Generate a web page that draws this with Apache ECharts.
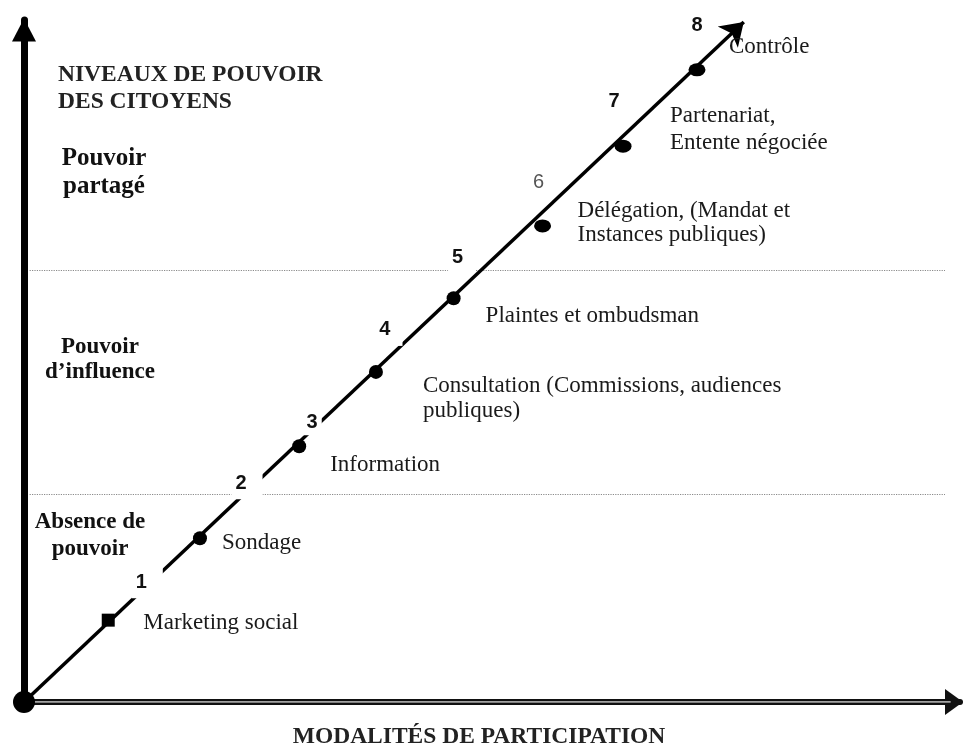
<!DOCTYPE html>
<html>
<head>
<meta charset="utf-8">
<script src="https://cdn.jsdelivr.net/npm/echarts@6/dist/echarts.min.js"></script>
<style>
  html, body { margin: 0; padding: 0; background: #fff; }
  #chart { width: 963px; height: 748px; }
</style>
</head>
<body>
<div id="chart"></div>
<script>
// niveaux de participation (1 à 8)
const levelNumbers = ['1', '2', '3', '4', '5', '6', '7', '8'];
const levelNames = [
  'Marketing social',
  'Sondage',
  'Information',
  'Consultation (Commissions, audiences\npubliques)',
  'Plaintes et ombudsman',
  'Délégation, (Mandat et\nInstances publiques)',
  'Partenariat,\nEntente négociée',
  'Contrôle'
];
// modalité de participation (x) et pouvoir (y), échelle 0-100
const participation = [9.0, 18.8, 29.4, 37.6, 45.9, 55.4, 64.0, 71.9];
const pouvoir = [12.0, 24.0, 37.5, 48.4, 59.2, 69.8, 81.5, 92.7];
// seuils entre les zones de pouvoir
const zoneLimits = [30.4, 63.3];
const zoneNames = ['Absence de\npouvoir', 'Pouvoir\nd’influence', 'Pouvoir\npartagé'];
// bout de la flèche diagonale
const arrowEnd = [76.9, 99.7];

// mise en page des étiquettes (px)
const numCenters = [[33, -42], [41, -59], [13, -25], [9, -46], [4, -43], [-4, -44], [-9, -46], [0, -45]];
const numPads = [[2, 16, 10, 4], [2, 16, 10, 4], [2, 4, 4, 4], [2, 12, 10, 4], [2, 12, 6, 4], [2, 4, 4, 4], [2, 4, 4, 4], [2, 4, 4, 4]];
const nameOffsets = [[35, 3], [22, 5], [31, 19], [47, 27], [32, 18], [35, -3], [47, -17], [32, -23]];
const nameLineHeight = [25, 25, 25, 25, 25, 24, 27, 25];
const zoneTitlePos = [[90, 509], [100, 335], [104, 145]]; // centre x, haut
const zoneFont = [[23, 27], [23, 25], [25, 28]]; // taille, interligne

const serif = 'Liberation Serif';
const points = participation.map((x, i) => [x, pouvoir[i]]);

const chart = echarts.init(document.getElementById('chart'));

const titles = [{
  text: 'NIVEAUX DE POUVOIR\nDES CITOYENS',
  left: 58, top: 61, padding: 0,
  textStyle: { fontFamily: serif, fontSize: 23.5, fontWeight: 'bold', lineHeight: 27, color: '#222' }
}];
zoneNames.forEach((name, i) => {
  titles.push({
    text: name,
    left: zoneTitlePos[i][0], top: zoneTitlePos[i][1], padding: 0,
    textAlign: 'center',
    textStyle: { fontFamily: serif, fontSize: zoneFont[i][0], fontWeight: 'bold', lineHeight: zoneFont[i][1], color: '#111' }
  });
});

const option = {
  backgroundColor: '#fff',
  animation: false,
  title: titles,
  grid: { left: 24, right: 3, top: 20, bottom: 46, outerBoundsMode: 'none' },
  xAxis: {
    type: 'value', min: 0, max: 100,
    axisLine: {
      show: true, symbol: ['none', 'triangle'], symbolSize: [26, 18], symbolOffset: [0, -6],
      lineStyle: { color: '#111', width: 6 }
    },
    axisTick: { show: false }, axisLabel: { show: false }, splitLine: { show: false },
    name: 'MODALITÉS DE PARTICIPATION',
    nameLocation: 'middle', nameGap: 23,
    nameTextStyle: { fontFamily: serif, fontSize: 23.5, fontWeight: 'bold', color: '#222', padding: [0, 26, 0, 0] }
  },
  yAxis: {
    type: 'value', min: 0, max: 100,
    axisLine: {
      show: true, symbol: ['none', 'triangle'], symbolSize: [24, 23], symbolOffset: [0, -10],
      lineStyle: { color: '#000', width: 7 }
    },
    axisTick: { show: false }, axisLabel: { show: false }, splitLine: { show: false }
  },
  series: [
    {
      // lignes pointillées entre les zones
      type: 'lines', coordinateSystem: 'cartesian2d', silent: true, z: 1,
      symbol: 'none',
      lineStyle: { color: '#8a8a8a', width: 1.2, type: 'dotted', opacity: 1 },
      data: zoneLimits.map(v => ({ coords: [[0.6, v], [98.4, v]] }))
    },
    {
      // double trait de l'axe horizontal
      type: 'lines', coordinateSystem: 'cartesian2d', silent: true, z: 2,
      symbol: 'none',
      lineStyle: { color: '#d4d4d4', width: 1.5, opacity: 1 },
      data: [{ coords: [[1, 0], [99, 0]] }]
    },
    {
      // flèche diagonale
      type: 'lines', coordinateSystem: 'cartesian2d', silent: true, z: 2,
      symbol: ['none', 'arrow'], symbolSize: 22,
      lineStyle: { color: '#000', width: 3.5, opacity: 1 },
      data: [{ coords: [[0, 0], arrowEnd] }]
    },
    {
      // numéros des niveaux (fond blanc qui coupe les traits)
      type: 'scatter', symbolSize: 0, silent: true, z: 3,
      itemStyle: { opacity: 1 },
      data: points.map((p, i) => {
        const pad = numPads[i];
        return {
          value: p,
          label: {
            padding: pad,
            offset: [numCenters[i][0] + (pad[1] - pad[3]) / 2, numCenters[i][1] + (pad[2] - pad[0]) / 2],
            fontWeight: i === 5 ? 'normal' : 'bold',
            color: i === 5 ? '#555' : '#111'
          }
        };
      }),
      label: {
        show: true, position: 'inside',
        formatter: p => levelNumbers[p.dataIndex],
        fontFamily: 'Liberation Sans', fontSize: 20,
        backgroundColor: '#fff'
      }
    },
    {
      // libellés des niveaux
      type: 'scatter', symbolSize: 0, silent: true, z: 3,
      itemStyle: { opacity: 1 },
      data: points.map((p, i) => ({ value: p, label: { offset: nameOffsets[i], lineHeight: nameLineHeight[i] } })),
      label: {
        show: true, position: 'inside', align: 'left', verticalAlign: 'middle',
        formatter: p => levelNames[p.dataIndex],
        fontFamily: serif, fontSize: 23, color: '#1a1a1a'
      }
    },
    {
      // points des niveaux
      type: 'scatter', silent: true, z: 4,
      itemStyle: { color: '#000', opacity: 1 },
      data: points.map((p, i) => ({
        value: p,
        symbol: i === 0 ? 'rect' : 'circle',
        symbolSize: i === 0 ? 13 : (i >= 5 ? [17, 13] : 14)
      }))
    },
    {
      // origine
      type: 'scatter', silent: true, z: 4, symbolSize: 22,
      itemStyle: { color: '#000', opacity: 1 },
      data: [[0, 0]]
    }
  ]
};

chart.setOption(option);
</script>
</body>
</html>
